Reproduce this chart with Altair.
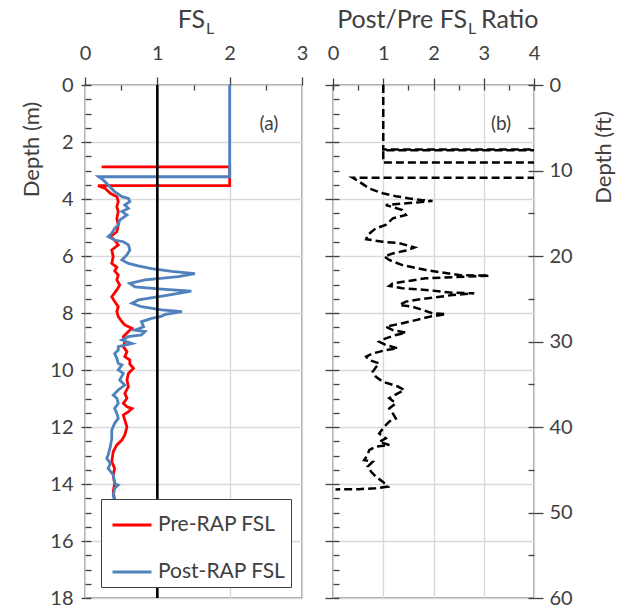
import altair as alt
import pandas as pd

# ---------------- data ----------------
series_names = ["Pre-RAP FSL", "Post-RAP FSL"]

pre_fsl = [0.23, 2.0, 2.0, 0.18, 0.28, 0.35, 0.44, 0.46, 0.44, 0.46, 0.44, 0.46, 0.44, 0.35,
           0.41, 0.46, 0.37, 0.39, 0.37, 0.44, 0.41, 0.46, 0.44, 0.48, 0.44, 0.37, 0.41, 0.46,
           0.44, 0.46, 0.51, 0.55, 0.65, 0.60, 0.53, 0.55, 0.53, 0.58, 0.55, 0.62, 0.62, 0.67,
           0.60, 0.58, 0.60, 0.55, 0.58, 0.53, 0.58, 0.65, 0.60, 0.53, 0.55, 0.58, 0.55, 0.51,
           0.44, 0.39, 0.37, 0.41, 0.39, 0.41, 0.39, 0.41, 0.40]
pre_depth = [2.87, 2.87, 3.53, 3.53, 3.63, 3.80, 3.92, 4.09, 4.27, 4.44, 4.68, 4.91, 5.15, 5.32,
             5.44, 5.61, 5.79, 6.02, 6.26, 6.40, 6.52, 6.67, 6.84, 7.02, 7.19, 7.43, 7.60, 7.78,
             7.95, 8.13, 8.30, 8.42, 8.54, 8.65, 8.83, 9.01, 9.18, 9.36, 9.53, 9.65, 9.80, 9.94,
             10.12, 10.35, 10.58, 10.82, 10.99, 11.17, 11.29, 11.35, 11.46, 11.58, 11.75, 12.00,
             12.28, 12.46, 12.63, 12.87, 13.22, 13.45, 13.68, 13.98, 14.27, 14.56, 14.75]

post_fsl = [2.0, 2.0, 0.19, 0.25, 0.32, 0.41, 0.51, 0.60, 0.62, 0.55, 0.60, 0.51, 0.58, 0.48,
            0.46, 0.41, 0.37, 0.32, 0.41, 0.53, 0.60, 0.62, 0.58, 0.51, 0.60, 0.72, 0.92, 1.20,
            1.52, 1.29, 0.83, 0.62, 0.69, 1.06, 1.47, 1.15, 0.74, 0.65, 0.78, 1.06, 1.34, 1.11,
            1.04, 0.92, 0.85, 0.78, 0.81, 0.69, 0.83, 0.78, 0.60, 0.51, 0.65, 0.46, 0.46, 0.41,
            0.44, 0.46, 0.51, 0.46, 0.53, 0.48, 0.55, 0.46, 0.39, 0.44, 0.46, 0.41, 0.44, 0.46,
            0.41, 0.37, 0.37, 0.35, 0.32, 0.30, 0.35, 0.32, 0.39, 0.41, 0.46, 0.41, 0.39, 0.41,
            0.41]
post_depth = [0.0, 3.22, 3.22, 3.33, 3.51, 3.74, 3.92, 3.98, 4.09, 4.21, 4.33, 4.44, 4.56, 4.74,
              4.91, 5.03, 5.20, 5.32, 5.44, 5.50, 5.61, 5.79, 5.96, 6.14, 6.26, 6.34, 6.44, 6.54,
              6.62, 6.72, 6.84, 6.96, 7.08, 7.16, 7.23, 7.37, 7.54, 7.66, 7.78, 7.89, 7.95, 8.05,
              8.13, 8.19, 8.25, 8.30, 8.48, 8.60, 8.65, 8.77, 8.83, 8.95, 9.07, 9.18, 9.30, 9.42,
              9.59, 9.77, 9.82, 10.00, 10.12, 10.35, 10.53, 10.70, 10.88, 10.99, 11.17, 11.35,
              11.52, 11.70, 11.87, 12.11, 12.40, 12.69, 12.98, 13.10, 13.28, 13.45, 13.68, 13.98,
              14.04, 14.15, 14.39, 14.62, 14.75]

ratio = [1.0, 1.0, 8.7, 8.7, 1.0, 1.0, 8.7, 8.7, 0.39, 0.52, 0.72, 0.99, 1.25, 1.52, 1.78, 1.98,
         1.58, 1.05, 1.38, 1.45, 1.19, 1.05, 0.85, 0.69, 0.66, 0.99, 1.32, 1.62, 1.45, 1.19, 1.02,
         1.12, 1.38, 1.85, 2.51, 3.11, 1.85, 1.19, 1.12, 1.38, 1.85, 2.38, 2.81, 2.38, 1.85, 1.45,
         1.32, 1.58, 1.78, 1.98, 2.25, 1.92, 1.65, 1.38, 1.05, 1.19, 1.45, 1.25, 1.05, 0.92, 1.05,
         1.29, 1.05, 0.79, 0.66, 0.72, 0.92, 0.85, 0.79, 0.85, 0.99, 1.15, 1.29, 1.42, 1.29, 1.12,
         1.25, 1.12, 1.19, 1.25, 1.12, 1.02, 0.92, 1.05, 0.92, 1.12, 0.85, 0.72, 0.69, 0.62, 0.79,
         0.69, 0.76, 0.85, 0.99, 1.09, 0.85, 0.52, 0.05]
ratio_depth = [0.0, 2.26, 2.26, 2.29, 2.29, 2.72, 2.72, 3.25, 3.25, 3.39, 3.63, 3.80, 3.90, 3.98,
               4.04, 4.07, 4.13, 4.21, 4.39, 4.56, 4.68, 4.91, 5.03, 5.26, 5.41, 5.50, 5.55, 5.70,
               5.81, 5.91, 6.02, 6.14, 6.32, 6.49, 6.67, 6.69, 6.78, 6.96, 7.05, 7.13, 7.19, 7.29,
               7.31, 7.37, 7.49, 7.60, 7.72, 7.78, 7.89, 8.01, 8.04, 8.13, 8.25, 8.36, 8.48, 8.60,
               8.69, 8.77, 8.89, 9.01, 9.12, 9.24, 9.30, 9.42, 9.53, 9.65, 9.77, 9.91, 10.06, 10.23,
               10.41, 10.50, 10.58, 10.70, 10.82, 10.99, 11.17, 11.35, 11.52, 11.70, 11.81, 11.99,
               12.23, 12.40, 12.52, 12.63, 12.69, 12.81, 12.98, 13.16, 13.22, 13.39, 13.57, 13.74,
               13.92, 14.09, 14.15, 14.18, 14.19]

fs_reference = [1.0]
fsl_ticks = [0, 1, 2, 3]
ratio_ticks = [0, 1, 2, 3, 4]
depth_m_ticks = [0, 2, 4, 6, 8, 10, 12, 14, 16, 18]
depth_ft_ticks = [0, 10, 20, 30, 40, 50, 60]
fsl_minor = [0.5, 1.5, 2.5]
ratio_minor = [i * 0.5 for i in range(9)]
depth_m_minor = [i * 0.5 for i in range(37)]
depth_ft_minor = [i * 5 for i in range(13)]

title_a = ["FS", "L"]
title_b = ["Post/Pre FS", "L", "Ratio"]
panel_tags = ["(a)", "(b)"]
y_title_m = "Depth (m)"
y_title_ft = "Depth (ft)"

# ---------------- style ----------------
FONT = "Lato"
TXT = "#404040"
AXC = "#404040"
GRID = "#D9D9D9"
RED = "#FF0000"
BLUE = "#4F81BD"
W1, W2, H = 217, 201, 513

rows = []
for i, (v, d) in enumerate(zip(pre_fsl, pre_depth)):
    rows.append({"series": series_names[0], "fsl": v, "depth": d, "i": i})
for i, (v, d) in enumerate(zip(post_fsl, post_depth)):
    rows.append({"series": series_names[1], "fsl": v, "depth": d, "i": i})
fsl_df = pd.DataFrame(rows)
ratio_df = pd.DataFrame({"ratio": ratio, "depth": ratio_depth, "i": list(range(len(ratio)))})

xs1 = alt.Scale(domain=[0, 3], nice=False, zero=False)
xs2 = alt.Scale(domain=[0, 4], nice=False, zero=False)
ysm = alt.Scale(domain=[0, 18], reverse=True, nice=False, zero=False)
ysf = alt.Scale(domain=[0, 60], reverse=True, nice=False, zero=False)


def major(orient, values, labels=True, tick=8, pad=6, grid=True, **kw):
    return alt.Axis(orient=orient, values=values, labels=labels, grid=grid, gridColor=GRID,
                    gridWidth=1.4, ticks=True, tickSize=tick, tickColor=AXC, tickWidth=1.3,
                    domain=False, labelFont=FONT, labelFontSize=20, labelColor=TXT,
                    labelPadding=pad, labelFlush=False, labelOverlap=False, **kw)


def minor(orient, values, size=6):
    return alt.Axis(orient=orient, values=values, labels=False, grid=False, ticks=True,
                    tickSize=size, tickColor=AXC, tickWidth=1.3, domain=False, offset=-size,
                    title=None)


def text_layer(txt, x, y, size, align="center", baseline="alphabetic"):
    return alt.Chart(pd.DataFrame({"t": [txt]})).mark_text(
        font=FONT, fontSize=size, color=TXT, align=align, baseline=baseline
    ).encode(text="t:N", x=alt.value(x), y=alt.value(y))


# ---------------- left panel ----------------
lines = alt.Chart(fsl_df).mark_line(strokeWidth=2.8, clip=True).encode(
    x=alt.X("fsl:Q", scale=xs1, axis=major("top", fsl_ticks, tick=8, pad=14, title=None)),
    y=alt.Y("depth:Q", scale=ysm,
            axis=major("left", depth_m_ticks, tick=4, pad=8, title=y_title_m,
                       titleFont=FONT, titleFontSize=22, titleFontWeight="normal",
                       titleColor=TXT, titlePadding=6, titleY=64, titleAlign="center")),
    color=alt.Color("series:N", scale=alt.Scale(domain=series_names, range=[RED, BLUE]),
                    legend=alt.Legend(title=None, orient="none", legendX=16, legendY=414,
                                      symbolType="stroke", symbolSize=1521,
                                      symbolStrokeWidth=3, symbolOffset=5,
                                      labelFont=FONT, labelFontSize=21, labelColor=TXT,
                                      labelOffset=5, padding=5, rowPadding=16,
                                      fillColor="white", strokeColor=AXC, cornerRadius=0)),
    order=alt.Order("i:Q"),
)

ref_rule = alt.Chart(pd.DataFrame({"ref": fs_reference})).mark_rule(
    color="black", strokeWidth=2.6
).encode(x=alt.X("ref:Q", scale=xs1, axis=None))

left_minor = alt.Chart(pd.DataFrame({"mx": [0, 3], "my": [0, 18]})).mark_point(opacity=0).encode(
    x=alt.X("mx:Q", scale=xs1, axis=minor("top", fsl_minor, 5)),
    y=alt.Y("my:Q", scale=ysm, axis=minor("left", depth_m_minor, 6)),
)

left = alt.layer(
    lines, ref_rule, left_minor,
    text_layer(title_a[0], 120, -57, 25, align="right"),
    text_layer(title_a[1], 121, -51, 16, align="left"),
    text_layer(panel_tags[0], 184, 39, 19, baseline="middle"),
).resolve_axis(x="independent", y="independent").properties(width=W1, height=H)

# ---------------- right panel ----------------
ratio_line = alt.Chart(ratio_df).mark_line(
    color="black", strokeWidth=2.5, strokeDash=[8, 4], clip=True
).encode(
    x=alt.X("ratio:Q", scale=xs2, axis=major("top", ratio_ticks, tick=7, pad=15, title=None)),
    y=alt.Y("depth:Q", scale=ysm, axis=major("left", depth_m_ticks, labels=False, tick=8,
                                             title=None)),
    order=alt.Order("i:Q"),
)

right_minor = alt.Chart(pd.DataFrame({"mx": [0, 4], "my": [0, 18]})).mark_point(opacity=0).encode(
    x=alt.X("mx:Q", scale=xs2, axis=minor("top", ratio_minor, 5)),
    y=alt.Y("my:Q", scale=ysm, axis=minor("left", depth_m_minor, 6)),
)

ft_major = alt.Chart(pd.DataFrame({"ft": [0, 60], "fx": [0, 4]})).mark_point(opacity=0).encode(
    x=alt.X("fx:Q", scale=xs2, axis=None),
    y=alt.Y("ft:Q", scale=ysf,
            axis=major("right", depth_ft_ticks, tick=9, pad=6, grid=False, title=y_title_ft,
                       titleFont=FONT, titleFontSize=22, titleFontWeight="normal",
                       titleColor=TXT, titlePadding=21, titleAngle=270, titleBaseline="top",
                       titleY=72, titleAlign="center")),
)
ft_minor = alt.Chart(pd.DataFrame({"ft2": [0, 60], "fx2": [0, 4]})).mark_point(opacity=0).encode(
    x=alt.X("fx2:Q", scale=xs2, axis=None),
    y=alt.Y("ft2:Q", scale=ysf, axis=minor("right", depth_ft_minor, 6)),
)

right = alt.layer(
    ratio_line, right_minor, ft_major, ft_minor,
    text_layer(title_b[0], 134, -57, 25, align="right"),
    text_layer(title_b[1], 135, -51, 16, align="left"),
    text_layer(title_b[2], 148, -57, 25, align="left"),
    text_layer(panel_tags[1], 168, 39, 19, baseline="middle"),
).resolve_scale(y="independent").resolve_axis(x="independent", y="independent").properties(
    width=W2, height=H)

chart = alt.hconcat(left, right, spacing=31, bounds="flush").resolve_legend(
    color="independent"
).configure(
    font=FONT, padding={"left": 20, "top": 7, "right": 3, "bottom": 2}, background="white"
).configure_view(stroke=AXC, strokeWidth=1.3)

chart.save("out.html", embed_options={"renderer": "svg", "actions": False})
